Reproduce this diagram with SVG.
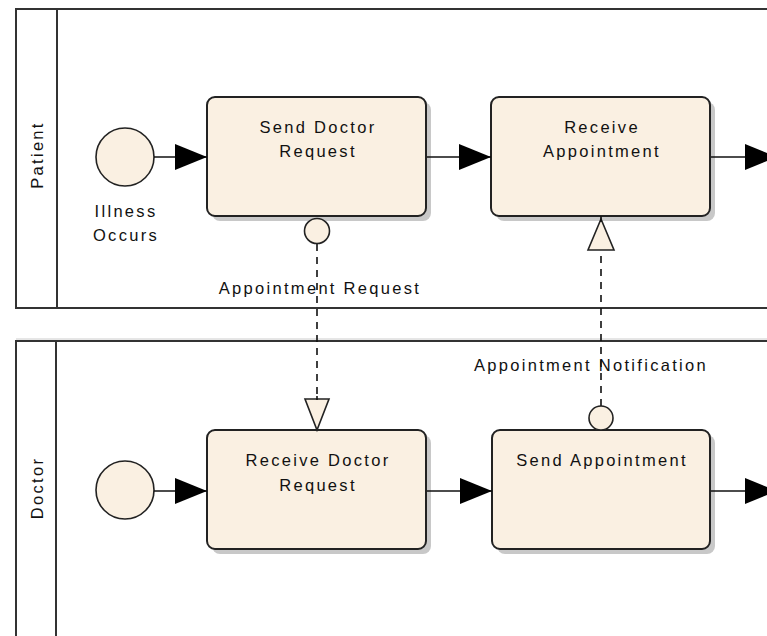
<svg xmlns="http://www.w3.org/2000/svg" width="767" height="636" viewBox="0 0 767 636">
<style>
text{font-family:"Liberation Sans",Arial,sans-serif;font-size:16.5px;letter-spacing:2.3px;fill:#111;}
.lane{fill:#fff;stroke:#333;stroke-width:2;}
.task{fill:#FAF0E2;stroke:#222;stroke-width:2;}
.shadow{fill:#c8c8c8;}
.ev{fill:#FAF0E2;stroke:#222;stroke-width:1.6;}
.flow{stroke:#111;stroke-width:1.6;fill:none;}
.msg{stroke:#111;stroke-width:1.6;fill:none;stroke-dasharray:7,6;}
.mk{fill:#FAF0E2;stroke:#222;stroke-width:1.6;}
</style>
<defs>
<marker id="ah" markerUnits="userSpaceOnUse" markerWidth="34" markerHeight="28" refX="32" refY="13" orient="auto">
<path d="M0,0 L32,13 L0,26 Z" fill="#000"/>
</marker>
</defs>
<rect width="767" height="636" fill="#fff"/>
<g id="lane-patient">
<rect class="lane" x="16" y="9" width="770" height="299"/>
<line x1="57" y1="9" x2="57" y2="308" stroke="#333" stroke-width="2"/>
<text transform="translate(43,155) rotate(-90)" text-anchor="middle">Patient</text>
</g>
<g id="lane-doctor">
<line x1="16" y1="339" x2="767" y2="339" stroke="#ccc" stroke-width="1"/>
<rect class="lane" x="16" y="341" width="770" height="310"/>
<line x1="56" y1="341" x2="56" y2="640" stroke="#333" stroke-width="2"/>
<text transform="translate(43,488) rotate(-90)" text-anchor="middle">Doctor</text>
</g>
<g id="start-patient">
<circle class="ev" cx="125" cy="157" r="29"/>
<text x="126" y="217" text-anchor="middle">Illness</text>
<text x="126" y="241" text-anchor="middle">Occurs</text>
</g>
<g id="start-doctor">
<circle class="ev" cx="125" cy="490" r="29"/>
</g>
<g id="task-send-doctor-request">
<rect class="shadow" x="212" y="102" width="219" height="119" rx="8"/>
<rect class="task" x="207" y="97" width="219" height="119" rx="8"/>
<text x="318" y="133" text-anchor="middle">Send Doctor</text>
<text x="318" y="157" text-anchor="middle">Request</text>
</g>
<g id="task-receive-appointment">
<rect class="shadow" x="496" y="102" width="219" height="119" rx="8"/>
<rect class="task" x="491" y="97" width="219" height="119" rx="8"/>
<text x="602" y="133" text-anchor="middle">Receive</text>
<text x="602" y="157" text-anchor="middle">Appointment</text>
</g>
<g id="task-receive-doctor-request">
<rect class="shadow" x="212" y="435" width="219" height="119" rx="8"/>
<rect class="task" x="207" y="430" width="219" height="119" rx="8"/>
<text x="318" y="466" text-anchor="middle">Receive Doctor</text>
<text x="318" y="491" text-anchor="middle">Request</text>
</g>
<g id="task-send-appointment">
<rect class="shadow" x="497" y="435" width="218" height="119" rx="8"/>
<rect class="task" x="492" y="430" width="218" height="119" rx="8"/>
<text x="602" y="466" text-anchor="middle">Send Appointment</text>
</g>
<g id="connectors">
<line class="flow" x1="154" y1="157" x2="207" y2="157" marker-end="url(#ah)"/>
<line class="flow" x1="427" y1="157" x2="491" y2="157" marker-end="url(#ah)"/>
<line class="flow" x1="711" y1="157" x2="777" y2="157" marker-end="url(#ah)"/>
<line class="flow" x1="154" y1="491" x2="207" y2="491" marker-end="url(#ah)"/>
<line class="flow" x1="427" y1="491" x2="492" y2="491" marker-end="url(#ah)"/>
<line class="flow" x1="711" y1="491" x2="777" y2="491" marker-end="url(#ah)"/>
<line class="msg" x1="317" y1="244" x2="317" y2="399"/>
<line class="msg" x1="601" y1="406" x2="601" y2="251"/>
<circle class="mk" cx="317" cy="231" r="12.5"/>
<path class="mk" d="M305,399 L329,399 L317,430 Z"/>
<circle class="mk" cx="601" cy="418" r="12"/>
<path class="mk" d="M601,219 L614,250 L588,250 Z"/>
<line x1="601" y1="216" x2="601" y2="222" stroke="#111" stroke-width="1.6"/>
<line x1="317" y1="396" x2="317" y2="400" stroke="#111" stroke-width="1.6"/>
<text x="320" y="294" text-anchor="middle">Appointment Request</text>
<text x="591" y="371" text-anchor="middle">Appointment Notification</text>
</g>
</svg>
